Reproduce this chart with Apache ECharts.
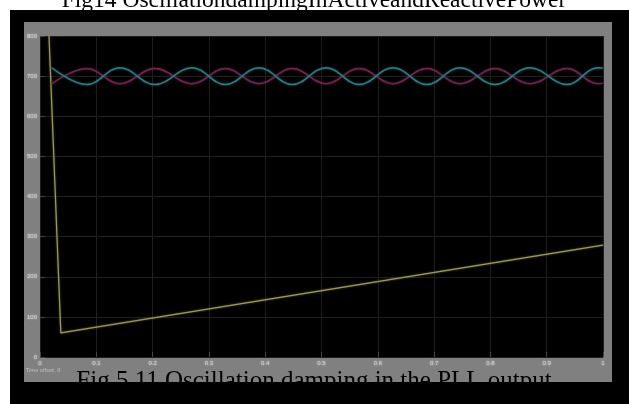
<!DOCTYPE html>
<html>
<head>
<meta charset="utf-8">
<script src="https://cdn.jsdelivr.net/npm/echarts@6/dist/echarts.min.js"></script>
<style>
body { margin: 0; background: #fff; }
#outer { position: absolute; left: 10px; top: 10px; right: 0; bottom: 0; background: #000; }
#panel { position: absolute; left: 24px; top: 22px; width: 588px; height: 360px; background: #808080; }
#scope { position: absolute; left: 0; top: 0; width: 629px; height: 404px; }
</style>
</head>
<body>
<div id="outer"></div>
<div id="panel"></div>
<div id="scope"></div>
<script>
// 读图得到的数据（时间 0..1，纵轴 0..800）
var yellowTime = [0.016, 0.037, 1.0];
var yellowValues = [800, 60, 279];

var waveTime = [0.021, 0.083, 0.142, 0.204, 0.270, 0.329, 0.389, 0.448, 0.508,
                0.567, 0.627, 0.687, 0.746, 0.808, 0.870, 0.936, 0.991, 1.0];
var cyanValues = [721, 679, 721, 679, 721, 679, 721, 679, 721,
                  679, 721, 679, 721, 679, 721, 679, 721, 720];
var magentaValues = [681, 719, 681, 719, 681, 719, 681, 719, 681,
                     719, 681, 719, 681, 719, 681, 719, 681, 682];

var xTickLabels = ['0', '0.1', '0.2', '0.3', '0.4', '0.5', '0.6', '0.7', '0.8', '0.9', '1'];

function pairs(xs, ys) {
    return xs.map(function (x, i) { return [x, ys[i]]; });
}

var myChart = echarts.init(document.getElementById('scope'));
var option = {
    backgroundColor: 'transparent',
    animation: false,
    grid: {
        left: 40,
        top: 36,
        width: 563,
        height: 321,
        show: true,
        backgroundColor: '#000',
        borderWidth: 0
    },
    xAxis: {
        type: 'value',
        min: 0,
        max: 1,
        interval: 0.1,
        axisLine: { show: false },
        axisTick: { show: true, inside: true, length: 5, lineStyle: { color: '#444' } },
        splitLine: { show: true, lineStyle: { color: '#1f1f1f', width: 1 } },
        axisLabel: {
            fontSize: 6,
            color: '#d0d0d0',
            margin: 3,
            textShadowColor: '#ddd',
            textShadowBlur: 2,
            formatter: function (v) { return xTickLabels[Math.round(v * 10)]; }
        }
    },
    yAxis: {
        type: 'value',
        min: 0,
        max: 800,
        interval: 100,
        axisLine: { show: false },
        axisTick: { show: true, inside: true, length: 5, lineStyle: { color: '#444' } },
        splitLine: { show: true, lineStyle: { color: '#1f1f1f', width: 1 } },
        axisLabel: { fontSize: 6, color: '#d0d0d0', margin: 3, textShadowColor: '#ddd', textShadowBlur: 2 }
    },
    graphic: [
        {
            type: 'text',
            z: 100,
            style: {
                x: 314, y: 0.5, text: 'Fig14 OscillationdampingInActiveandReactivePower',
                font: '23.5px "Liberation Serif"', fill: '#000',
                textAlign: 'center', textVerticalAlign: 'middle'
            }
        },
        {
            type: 'text',
            z: 100,
            style: {
                x: 314, y: 381, text: 'Fig 5.11 Oscillation damping in the PLL output',
                font: '25px "Liberation Serif"', fill: '#000',
                textAlign: 'center', textVerticalAlign: 'middle'
            }
        },
        {
            type: 'text',
            z: 100,
            style: {
                x: 26, y: 368, text: 'Time offset: 0',
                font: '5px "DejaVu Sans"', fill: '#c8c8c8'
            }
        }
    ],
    series: [
        {
            name: 'yellow',
            type: 'line',
            data: pairs(yellowTime, yellowValues),
            showSymbol: false,
            lineStyle: { color: '#9a9a55', width: 1.2, shadowColor: '#6a6a3a', shadowBlur: 2 }
        },
        {
            name: 'magenta',
            type: 'line',
            smooth: 0.4,
            data: pairs(waveTime, magentaValues),
            showSymbol: false,
            lineStyle: { color: '#72244f', width: 1.4, shadowColor: '#5a1c40', shadowBlur: 2 }
        },
        {
            name: 'cyan',
            type: 'line',
            smooth: 0.4,
            data: pairs(waveTime, cyanValues),
            showSymbol: false,
            lineStyle: { color: '#2a8087', width: 1.4, shadowColor: '#1e5e63', shadowBlur: 2 }
        }
    ]
};
myChart.setOption(option);
window.addEventListener('resize', function () { myChart.resize(); });
</script>
</body>
</html>
